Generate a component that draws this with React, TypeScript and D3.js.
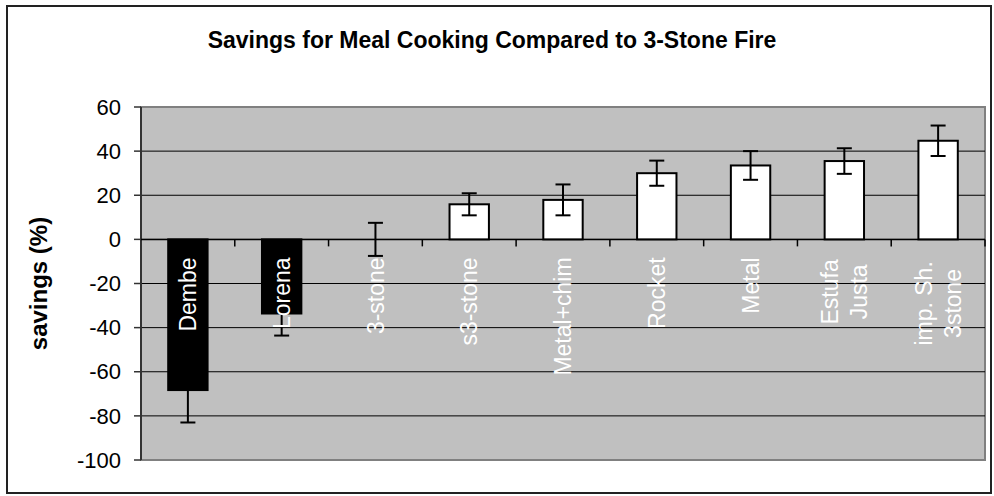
import React from "react";
import * as d3 from "d3";

const categories = ["Dembe", "Lorena", "3-stone", "s3-stone", "Metal+chim", "Rocket", "Metal", "Estufa Justa", "imp. Sh. 3stone"];
const labelLines = [["Dembe"], ["Lorena"], ["3-stone"], ["s3-stone"], ["Metal+chim"], ["Rocket"], ["Metal"], ["Estufa", "Justa"], ["imp. Sh.", "3stone"]];
const values = [-68.3, -33.6, 0, 15.9, 17.9, 30, 33.5, 35.5, 44.7];
const errors = [14.7, 10, 7.5, 5, 7, 5.7, 6.5, 5.8, 6.9];
const yTicks = [60, 40, 20, 0, -20, -40, -60, -80, -100];

const W = 994, H = 496;
const plot = { left: 141, right: 985, top: 107, bottom: 460 };
const FONT = "Arial, 'Liberation Sans', sans-serif";

export default function App() {
  const x = d3.scaleBand<string>().domain(categories).range([plot.left, plot.right]).padding(0);
  const y = d3.scaleLinear().domain([-100, 60]).range([plot.bottom, plot.top]);
  const bw = x.bandwidth() * 0.42;
  const cap = 15;
  const y0 = y(0);
  const labelTop = y0 + 18;
  const fs = 22;
  const lfs = 23;

  return (
    <svg width={W} height={H} style={{ position: "absolute", left: 0, top: 0, background: "#fff" }} fontFamily={FONT}>
      <rect x={0} y={0} width={W} height={H} fill="#fff" />
      <rect x={7} y={6} width={984} height={487} fill="none" stroke="#222" strokeWidth={2} />
      <text x={492} y={48} textAnchor="middle" fontWeight="bold" fontSize={23} fill="#000">
        Savings for Meal Cooking Compared to 3-Stone Fire
      </text>
      <rect x={plot.left} y={plot.top} width={plot.right - plot.left} height={plot.bottom - plot.top} fill="#C0C0C0" stroke="#808080" strokeWidth={2} />
      {yTicks.filter(t => t !== 60 && t !== -100).map(t => (
        <line key={"g" + t} x1={plot.left} x2={plot.right} y1={y(t)} y2={y(t)} stroke="#000" strokeWidth={1} />
      ))}
      <line x1={plot.left} x2={plot.left} y1={plot.top} y2={plot.bottom} stroke="#333" strokeWidth={2} />
      {yTicks.map(t => (
        <g key={"t" + t}>
          <line x1={plot.left - 7} x2={plot.left} y1={y(t)} y2={y(t)} stroke="#333" strokeWidth={1.5} />
          <text x={121} y={y(t)} dy="0.35em" textAnchor="end" fontSize={fs} fill="#000">{t}</text>
        </g>
      ))}
      <text transform={`translate(47,${(plot.top + plot.bottom) / 2}) rotate(-90)`} textAnchor="middle" fontWeight="bold" fontSize={24} fill="#000">
        savings (%)
      </text>
      <line x1={plot.left} x2={plot.right} y1={y0} y2={y0} stroke="#000" strokeWidth={1.5} />
      {categories.map((c, i) => (
        <line key={"ct" + i} x1={(x(c) as number) + x.bandwidth()} x2={(x(c) as number) + x.bandwidth()} y1={y0} y2={y0 + 7} stroke="#000" strokeWidth={1.5} />
      ))}
      {categories.map((c, i) => {
        const cx = (x(c) as number) + x.bandwidth() / 2;
        const v = values[i];
        const top = Math.min(y(v), y0);
        const h = Math.abs(y(v) - y0);
        const neg = v < 0;
        return h > 0 ? (
          <rect key={"b" + i} x={cx - bw / 2} y={top} width={bw} height={h} fill={neg ? "#000" : "#fff"} stroke="#000" strokeWidth={2} />
        ) : null;
      })}
      {categories.map((c, i) => {
        const cx = (x(c) as number) + x.bandwidth() / 2;
        const hi = y(values[i] + errors[i]);
        const lo = y(values[i] - errors[i]);
        return (
          <g key={"e" + i} stroke="#000" strokeWidth={2}>
            <line x1={cx} x2={cx} y1={hi} y2={lo} />
            <line x1={cx - cap / 2} x2={cx + cap / 2} y1={hi} y2={hi} />
            <line x1={cx - cap / 2} x2={cx + cap / 2} y1={lo} y2={lo} />
          </g>
        );
      })}
      {categories.map((c, i) => {
        const cx = (x(c) as number) + x.bandwidth() / 2;
        const lines = labelLines[i];
        if (lines.length === 1) {
          return (
            <text key={"l" + i} transform={`translate(${cx},${labelTop}) rotate(-90)`} textAnchor="end" dy="0.35em" fontSize={lfs} fill="#fff">
              {lines[0]}
            </text>
          );
        }
        const gap = 29;
        const maxLen = Math.max(...lines.map(l => l.length));
        const approx = maxLen * lfs * 0.5;
        return (
          <g key={"l" + i}>
            {lines.map((ln, j) => (
              <text key={j} transform={`translate(${cx + (j - (lines.length - 1) / 2) * gap},${labelTop + approx / 2}) rotate(-90)`} textAnchor="middle" dy="0.35em" fontSize={lfs} fill="#fff">
                {ln}
              </text>
            ))}
          </g>
        );
      })}
    </svg>
  );
}
